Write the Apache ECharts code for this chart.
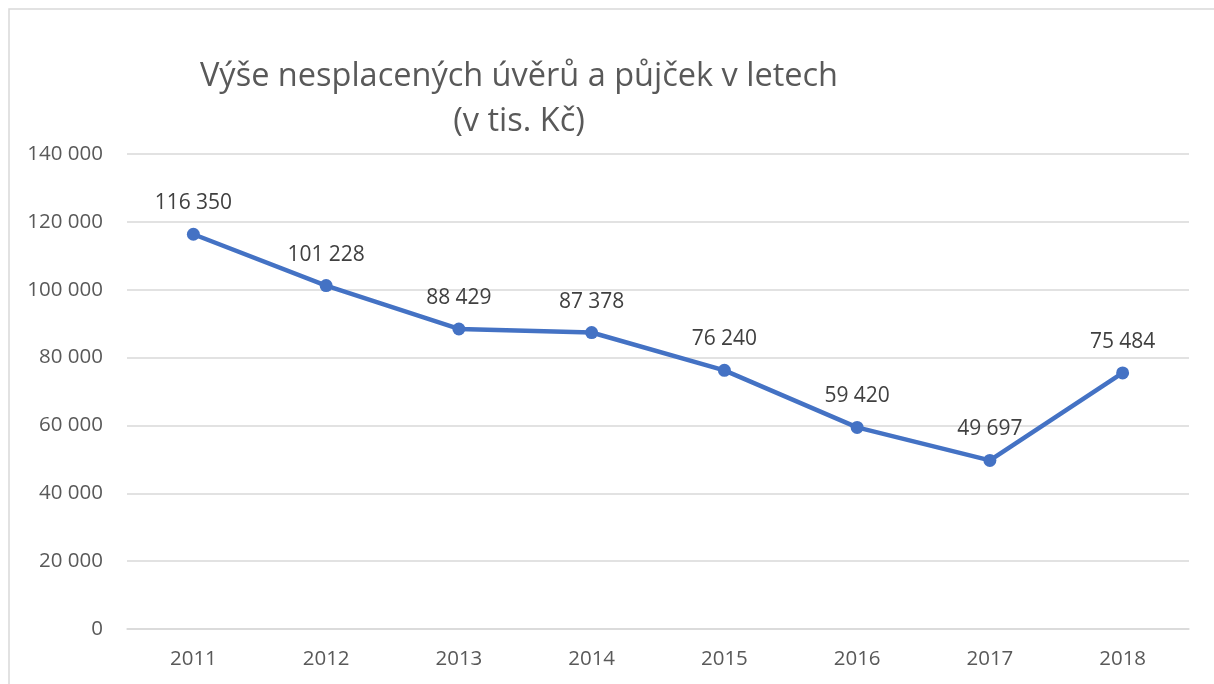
<!DOCTYPE html>
<html>
<head>
<meta charset="utf-8">
<script src="https://cdn.jsdelivr.net/npm/echarts@6/dist/echarts.min.js"></script>
<style>
  html, body { margin: 0; padding: 0; background: #fff; }
  #chart { width: 1214px; height: 684px; }
</style>
</head>
<body>
<div id="chart"></div>
<script>
// roky a hodnoty (v tis. Kč)
const years = ['2011', '2012', '2013', '2014', '2015', '2016', '2017', '2018'];
const values = [116350, 101228, 88429, 87378, 76240, 59420, 49697, 75484];
const yTicks = { min: 0, max: 140000, interval: 20000 };

const FONT = '"Open Sans", sans-serif';

// mezera jako oddělovač tisíců
function fmt(v) {
  return String(v).replace(/\B(?=(\d{3})+(?!\d))/g, ' ');
}

let myChart = echarts.init(document.getElementById('chart'));
let option = {
  animation: false,
  backgroundColor: '#fff',
  title: {
    text: 'Výše nesplacených úvěrů a půjček v letech\n(v tis. Kč)',
    left: 514,
    top: 49,
    textAlign: 'center',
    textStyle: {
      fontFamily: FONT,
      fontSize: 32.5,
      fontWeight: 'normal',
      color: '#595959',
      lineHeight: 45,
      align: 'center'
    }
  },
  graphic: [{
    type: 'rect',
    shape: { x: 9, y: 9, width: 1230, height: 700 },
    style: { fill: 'none', stroke: '#d9d9d9', lineWidth: 1.5 },
    silent: true
  }],
  grid: { left: 127, right: 25, top: 154, bottom: 55 },
  xAxis: {
    type: 'category',
    data: years,
    axisLine: { lineStyle: { color: '#d9d9d9', width: 1.5 } },
    axisTick: { show: false },
    axisLabel: { color: '#595959', fontSize: 20.5, fontFamily: FONT, margin: 20 }
  },
  yAxis: {
    type: 'value',
    min: yTicks.min,
    max: yTicks.max,
    interval: yTicks.interval,
    axisLine: { show: false },
    axisTick: { show: false },
    axisLabel: { color: '#595959', fontSize: 20.5, fontFamily: FONT, margin: 24, formatter: fmt },
    splitLine: { lineStyle: { color: '#d9d9d9', width: 1.5 } }
  },
  series: [{
    type: 'line',
    data: values,
    symbol: 'circle',
    symbolSize: 13,
    lineStyle: { color: '#4472c4', width: 4.5 },
    itemStyle: { color: '#4472c4' },
    label: {
      show: true,
      position: 'top',
      distance: 14,
      color: '#404040',
      fontSize: 21,
      fontFamily: FONT,
      formatter: p => fmt(p.value)
    }
  }]
};
myChart.setOption(option);
</script>
</body>
</html>
